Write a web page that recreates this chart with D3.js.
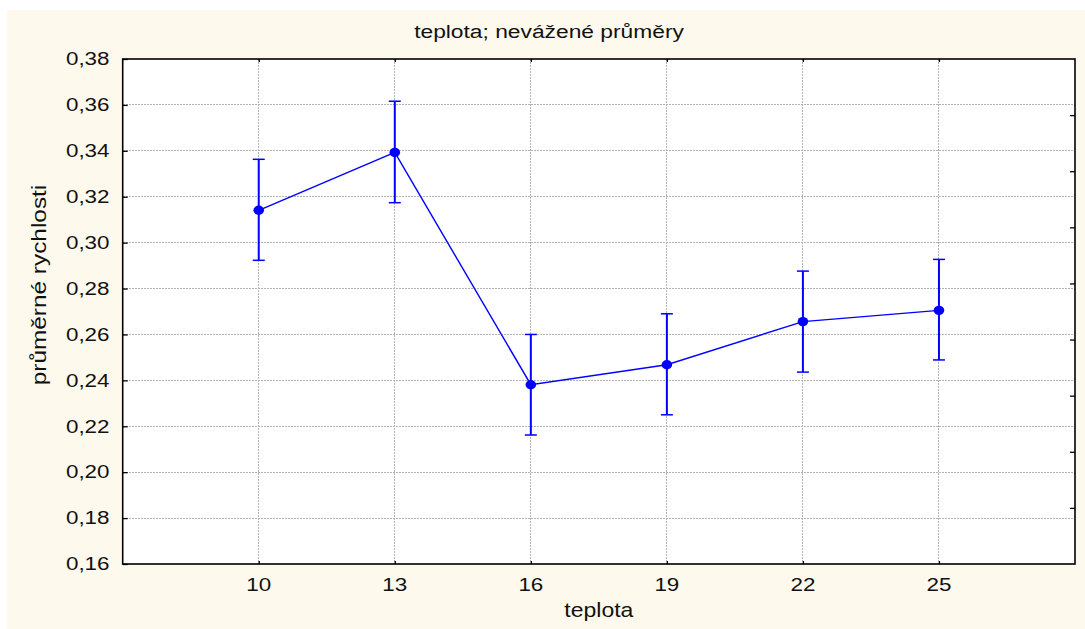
<!DOCTYPE html>
<html>
<head>
<meta charset="utf-8">
<script src="https://cdn.jsdelivr.net/npm/d3@7"></script>
<style>
  html, body { margin: 0; padding: 0; background: #ffffff; }
  svg { display: block; }
  text { font-family: "Liberation Sans", Arial, sans-serif; fill: #111; }
</style>
</head>
<body>
<svg id="chart" width="1085" height="629"></svg>
<script>
// Mean speed by temperature with confidence interval bounds
const categories = ["10", "13", "16", "19", "22", "25"];
const means = [0.3141, 0.3393, 0.2381, 0.2468, 0.2656, 0.2705];
const upper = [0.3363, 0.3616, 0.2600, 0.2690, 0.2876, 0.2927];
const lower = [0.2923, 0.3174, 0.2162, 0.2250, 0.2436, 0.2489];
const yTicks = [0.16, 0.18, 0.20, 0.22, 0.24, 0.26, 0.28, 0.30, 0.32, 0.34, 0.36, 0.38];

const titleText = "teplota; nevážené průměry";
const xTitle = "teplota";
const yTitle = "průměrné rychlosti";

const W = 1085, H = 629;
const plot = { left: 122.7, right: 1075, top: 59, bottom: 564 };
const blue = "#0000ff";

const svg = d3.select("#chart");

// panel background
svg.append("rect")
  .attr("x", 7).attr("y", 10)
  .attr("width", W - 7).attr("height", H - 10)
  .attr("fill", "#fef9ed");

svg.append("rect")
  .attr("x", plot.left).attr("y", plot.top)
  .attr("width", plot.right - plot.left).attr("height", plot.bottom - plot.top)
  .attr("fill", "#ffffff");

const x = d3.scalePoint().domain(categories).range([plot.left, plot.right]).padding(1);
const y = d3.scaleLinear().domain([0.16, 0.38]).range([plot.bottom, plot.top]);
const fmt = v => d3.format(".2f")(v).replace(".", ",");

// grid
const grid = svg.append("g").attr("stroke", "#b3b3b3").attr("stroke-width", 1)
  .attr("stroke-dasharray", "2,1").attr("shape-rendering", "crispEdges");
grid.selectAll("line.h").data(yTicks.slice(1, -1)).join("line")
  .attr("x1", plot.left).attr("x2", plot.right)
  .attr("y1", d => y(d)).attr("y2", d => y(d));
grid.selectAll("line.v").data(categories).join("line")
  .attr("y1", plot.top).attr("y2", plot.bottom)
  .attr("x1", d => x(d)).attr("x2", d => x(d));

// axes (inward ticks, labels drawn separately)
const axisStyle = g => {
  g.select(".domain").remove();
  g.selectAll(".tick line").attr("stroke", "#000").attr("stroke-width", 1.3);
  g.selectAll(".tick text").remove();
};
svg.append("g").attr("transform", `translate(${plot.left},0)`)
  .call(d3.axisLeft(y).tickValues(yTicks).tickSize(-5)).call(axisStyle);
svg.append("g").attr("transform", `translate(0,${plot.bottom})`)
  .call(d3.axisBottom(x).tickSize(-3)).call(axisStyle);
svg.append("g").attr("transform", `translate(0,${plot.top})`)
  .call(d3.axisTop(x).tickSize(-3)).call(axisStyle);
const yRight = d3.scaleLinear().domain([0, 9]).range([plot.bottom, plot.top]);
svg.append("g").attr("transform", `translate(${plot.right},0)`)
  .call(d3.axisRight(yRight).tickValues(d3.range(1, 9)).tickSize(-5)).call(axisStyle);

// frame
svg.append("rect")
  .attr("x", plot.left).attr("y", plot.top)
  .attr("width", plot.right - plot.left).attr("height", plot.bottom - plot.top)
  .attr("fill", "none").attr("stroke", "#000").attr("stroke-width", 1.6);

// stretched text helper
function label(px, py, str, size, k, opts = {}) {
  const g = svg.append("g")
    .attr("transform", `translate(${px},${py}) rotate(${opts.rotate || 0}) scale(${k},1)`);
  return g.append("text")
    .attr("text-anchor", opts.anchor || "middle")
    .attr("dy", opts.dy || 0)
    .style("font-size", size + "px")
    .text(str);
}

// tick labels
yTicks.forEach(v => label(109.5, y(v), fmt(v), 17.5, 1.28, { anchor: "end", dy: "0.36em" }));
categories.forEach(c => label(x(c), 591, c, 17.5, 1.28));

// titles
label(549, 38, titleText, 19, 1.2);
label((plot.left + plot.right) / 2, 617, xTitle, 20, 1.15);
label(46, 285, yTitle, 20, 1.22, { rotate: -90 });

// error bars
const eb = svg.append("g").attr("stroke", blue);
eb.selectAll("line.bar").data(categories).join("line")
  .attr("x1", d => x(d)).attr("x2", d => x(d))
  .attr("y1", (d, i) => y(upper[i])).attr("y2", (d, i) => y(lower[i]))
  .attr("stroke-width", 2);
eb.selectAll("line.capU").data(categories).join("line")
  .attr("x1", d => x(d) - 6).attr("x2", d => x(d) + 6)
  .attr("y1", (d, i) => y(upper[i])).attr("y2", (d, i) => y(upper[i]))
  .attr("stroke-width", 1.5);
eb.selectAll("line.capL").data(categories).join("line")
  .attr("x1", d => x(d) - 6).attr("x2", d => x(d) + 6)
  .attr("y1", (d, i) => y(lower[i])).attr("y2", (d, i) => y(lower[i]))
  .attr("stroke-width", 1.5);

// mean line and markers
const line = d3.line().x((d, i) => x(categories[i])).y(d => y(d));
svg.append("path").datum(means)
  .attr("d", line).attr("fill", "none")
  .attr("stroke", blue).attr("stroke-width", 1.4);

svg.selectAll("ellipse.pt").data(means).join("ellipse")
  .attr("cx", (d, i) => x(categories[i])).attr("cy", d => y(d))
  .attr("rx", 5.3).attr("ry", 4.7).attr("fill", blue);
</script>
</body>
</html>
